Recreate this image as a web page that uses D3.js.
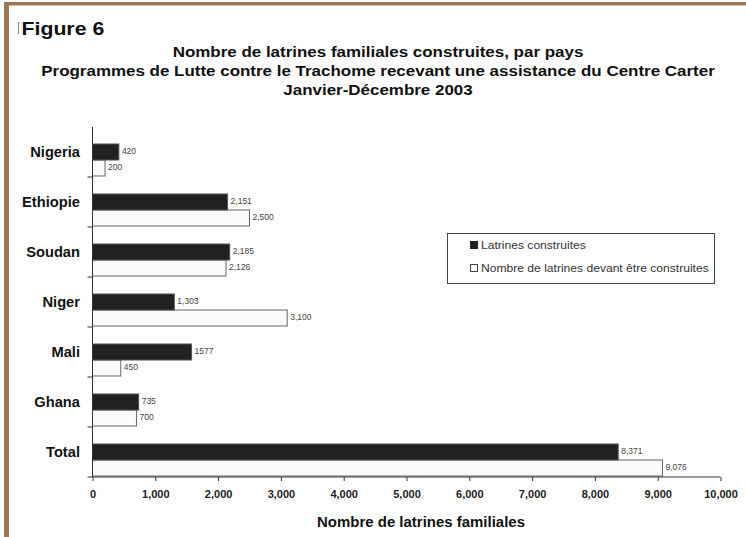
<!DOCTYPE html>
<html>
<head>
<meta charset="utf-8">
<script src="https://cdn.jsdelivr.net/npm/d3@7"></script>
<style>
  html, body { margin: 0; padding: 0; background: #fff; }
  svg { display: block; font-family: "Liberation Sans", Arial, sans-serif; }
</style>
</head>
<body>
<svg id="chart" width="746" height="537"></svg>
<script>
// Countries, top to bottom
const countries = ["Nigeria", "Ethiopie", "Soudan", "Niger", "Mali", "Ghana", "Total"];
// Latrines built in 2003
const built = [420, 2151, 2185, 1303, 1577, 735, 8371];
// Latrines planned for 2003
const planned = [200, 2500, 2126, 3100, 450, 700, 9076];
// Printed value labels
const builtLabels = ["420", "2,151", "2,185", "1,303", "1577", "735", "8,371"];
const plannedLabels = ["200", "2,500", "2,126", "3,100", "450", "700", "9,076"];
// Axis ticks
const xTicks = [0, 1000, 2000, 3000, 4000, 5000, 6000, 7000, 8000, 9000, 10000];
const seriesNames = ["Latrines construites", "Nombre de latrines devant être construites"];
const titleLines = [
  "Nombre de latrines familiales construites, par pays",
  "Programmes de Lutte contre le Trachome recevant une assistance du Centre Carter",
  "Janvier-Décembre 2003"
];

const svg = d3.select("#chart");
const W = 746, H = 537;
const plot = { left: 92.5, right: 720.5, top: 127, bottom: 477 };

// Text drawn slightly wide: place at (x, y) and stretch horizontally by sx
function wideText(sel, x, y, sx) {
  return sel.attr("x", 0).attr("y", 0)
    .attr("transform", `translate(${x},${y}) scale(${sx},1)`);
}

// Brown frame on top and left
svg.append("rect").attr("x", 4).attr("y", 2).attr("width", W - 4).attr("height", 3.5).attr("fill", "#9b7855");
svg.append("rect").attr("x", 4).attr("y", 2).attr("width", 5).attr("height", H - 2).attr("fill", "#9b7855");

// Figure label
svg.append("line").attr("x1", 18.5).attr("x2", 18.5).attr("y1", 22).attr("y2", 34)
  .attr("stroke", "#888").attr("stroke-width", 1);
svg.append("text")
  .call(wideText, 21.5, 35, 1.12)
  .attr("font-size", 19).attr("font-weight", "bold").attr("fill", "#111")
  .text("Figure 6");

// Titles
svg.append("g").selectAll("text").data(titleLines).join("text")
  .each(function (d, i) { d3.select(this).call(wideText, 378, 57 + i * 19, 1.17); })
  .attr("text-anchor", "middle")
  .attr("font-size", 14.5).attr("font-weight", "bold").attr("fill", "#111")
  .text(d => d);

// Scales
const x = d3.scaleLinear().domain([0, 10000]).range([plot.left, plot.right]);
const y = d3.scaleBand().domain(countries).range([plot.top, plot.bottom]).paddingInner(0);
const sub = d3.scaleBand().domain(["built", "planned"]).range([17, 49]);

const rows = countries.map((c, i) => ({
  country: c, built: built[i], planned: planned[i],
  builtLabel: builtLabels[i], plannedLabel: plannedLabels[i]
}));

const bars = svg.append("g");
// Planned (white) bars
bars.selectAll("rect.planned").data(rows).join("rect")
  .attr("class", "planned")
  .attr("x", x(0))
  .attr("y", d => y(d.country) + sub("planned"))
  .attr("width", d => x(d.planned) - x(0))
  .attr("height", sub.bandwidth())
  .attr("fill", "#fafafa").attr("stroke", "#666").attr("stroke-width", 1);
// Built (black) bars
bars.selectAll("rect.built").data(rows).join("rect")
  .attr("class", "built")
  .attr("x", x(0))
  .attr("y", d => y(d.country) + sub("built"))
  .attr("width", d => x(d.built) - x(0))
  .attr("height", sub.bandwidth())
  .attr("fill", "#212121").attr("stroke", "#555").attr("stroke-width", 1);

// Value labels
const lbl = svg.append("g").attr("font-size", 8.5).attr("fill", "#444");
lbl.selectAll("text.b").data(rows).join("text")
  .attr("class", "b")
  .attr("x", d => x(d.built) + 3)
  .attr("y", d => y(d.country) + sub("built") + sub.bandwidth() / 2 - 1)
  .attr("dominant-baseline", "central")
  .text(d => d.builtLabel);
lbl.selectAll("text.p").data(rows).join("text")
  .attr("class", "p")
  .attr("x", d => x(d.planned) + 3)
  .attr("y", d => y(d.country) + sub("planned") + sub.bandwidth() / 2 - 1)
  .attr("dominant-baseline", "central")
  .text(d => d.plannedLabel);

// Vertical axis with ticks at category boundaries
const yAxis = svg.append("g");
yAxis.append("line").attr("x1", plot.left).attr("x2", plot.left)
  .attr("y1", plot.top).attr("y2", plot.bottom).attr("stroke", "#333");
yAxis.selectAll("line.t").data(countries).join("line")
  .attr("class", "t")
  .attr("x1", plot.left - 5).attr("x2", plot.left)
  .attr("y1", d => y(d) + y.bandwidth()).attr("y2", d => y(d) + y.bandwidth())
  .attr("stroke", "#333");
yAxis.selectAll("text").data(countries).join("text")
  .each(function (d) { d3.select(this).call(wideText, 80, y(d) + y.bandwidth() / 2, 1.05); })
  .attr("text-anchor", "end").attr("dominant-baseline", "central")
  .attr("font-size", 14).attr("font-weight", "bold").attr("fill", "#111")
  .text(d => d);

// Horizontal axis
const xAxis = svg.append("g").attr("transform", `translate(0,${plot.bottom})`)
  .call(d3.axisBottom(x).tickValues(xTicks).tickFormat(d3.format(",")).tickSize(4).tickPadding(9));
xAxis.select(".domain").attr("stroke", "#333").attr("d", `M${plot.left},0H${plot.right}`);
xAxis.selectAll(".tick line").attr("stroke", "#333");
xAxis.selectAll(".tick text")
  .attr("font-family", "'Liberation Sans', Arial, sans-serif")
  .attr("font-size", 11).attr("font-weight", "bold").attr("fill", "#222");

svg.append("text")
  .call(wideText, 421, 522, 1.07)
  .attr("text-anchor", "middle").attr("dominant-baseline", "central")
  .attr("font-size", 14).attr("font-weight", "bold").attr("fill", "#111")
  .text("Nombre de latrines familiales");

// Legend
const legend = svg.append("g");
legend.append("rect").attr("x", 447.5).attr("y", 233.5).attr("width", 267).attr("height", 50)
  .attr("fill", "#fff").attr("stroke", "#444").attr("stroke-width", 1);
const items = legend.selectAll("g.item").data(seriesNames).join("g")
  .attr("class", "item")
  .attr("transform", (d, i) => `translate(470,${245 + i * 23})`);
items.append("rect").attr("x", 0.5).attr("y", -3.5).attr("width", 7).attr("height", 7)
  .attr("fill", (d, i) => i === 0 ? "#212121" : "#fff")
  .attr("stroke", (d, i) => i === 0 ? "#212121" : "#444");
items.append("text")
  .call(wideText, 11, 0, 1.1)
  .attr("dominant-baseline", "central")
  .attr("font-size", 11).attr("fill", "#333")
  .text(d => d);
</script>
</body>
</html>
